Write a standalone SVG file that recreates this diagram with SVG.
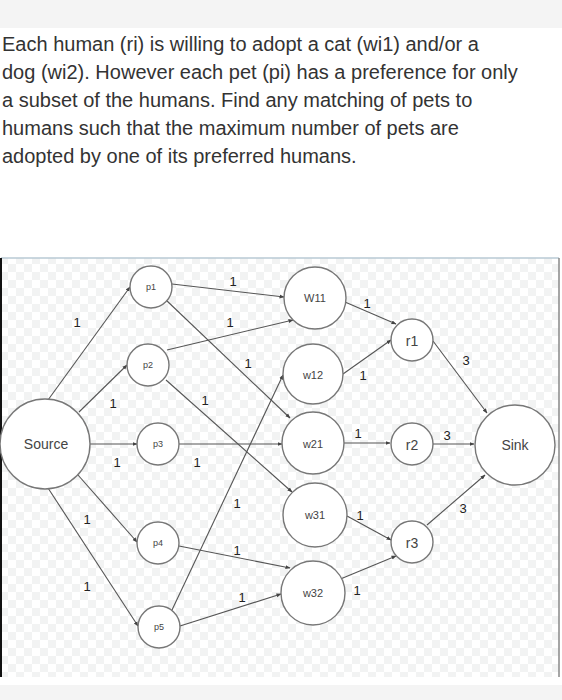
<svg xmlns="http://www.w3.org/2000/svg" width="562" height="700" viewBox="0 0 562 700">
  <defs>
    <pattern id="checker" x="0" y="0" width="16" height="16" patternUnits="userSpaceOnUse">
      <rect width="16" height="16" fill="#ffffff"/>
      <rect width="8" height="8" fill="#f2f3f3"/>
      <rect x="8" y="8" width="8" height="8" fill="#f2f3f3"/>
    </pattern>
    <marker id="arr" viewBox="0 0 10 10" refX="9" refY="5" markerWidth="5" markerHeight="5" orient="auto" markerUnits="userSpaceOnUse">
      <path d="M0,1 L10,5 L0,9 z" fill="#444"/>
    </marker>
    <style>
      .para { font-family: "Liberation Sans", Arial, sans-serif; font-size: 20px; fill: #333; }
      .node circle { fill: #ffffff; stroke: #777; stroke-width: 1.4; }
      .node text { font-family: "Liberation Sans", Arial, sans-serif; fill: #444; text-anchor: middle; dominant-baseline: central; }
      .small text { font-size: 9px; }
      .mid text { font-size: 11px; }
      .big text { font-size: 14px; }
      .edges line { stroke: #555; stroke-width: 1.1; marker-end: url(#arr); }
      .lbl { font-family: "Liberation Sans", Arial, sans-serif; font-size: 13px; fill: #222; text-anchor: middle; dominant-baseline: central; }
    </style>
  </defs>

  <!-- page background -->
  <rect x="0" y="0" width="562" height="700" fill="#ffffff"/>
  <rect x="0" y="0" width="562" height="28" fill="#f4f4f4"/>
  <rect x="0" y="685" width="562" height="15" fill="#f4f4f4"/>

  <!-- question text -->
  <g id="question">
    <text class="para" x="2" y="51">Each human (ri) is willing to adopt a cat (wi1) and/or a</text>
    <text class="para" x="2" y="79">dog (wi2). However each pet (pi) has a preference for only</text>
    <text class="para" x="2" y="107">a subset of the humans. Find any matching of pets to</text>
    <text class="para" x="2" y="135">humans such that the maximum number of pets are</text>
    <text class="para" x="2" y="163">adopted by one of its preferred humans.</text>
  </g>

  <!-- diagram frame -->
  <g id="frame">
    <rect x="1" y="258" width="558" height="419" fill="url(#checker)"/>
    <line x1="1" y1="258" x2="559" y2="258" stroke="#b8cad4" stroke-width="1.5"/>
    <line x1="1" y1="258" x2="1" y2="677" stroke="#111" stroke-width="2"/>
    <line x1="559" y1="258" x2="559" y2="677" stroke="#888" stroke-width="1.5"/>
  </g>

  <!-- connectors -->
  <g id="connectors" class="edges">
    <line x1="48" y1="400" x2="130" y2="287"/>
    <line x1="79" y1="412" x2="127" y2="365"/>
    <line x1="90" y1="444" x2="137" y2="444"/>
    <line x1="78" y1="475" x2="137" y2="542"/>
    <line x1="48" y1="488" x2="138" y2="626"/>

    <line x1="172" y1="284" x2="284" y2="297"/>
    <line x1="166" y1="300" x2="290" y2="418"/>
    <line x1="167" y1="350" x2="293" y2="320"/>
    <line x1="166" y1="380" x2="292" y2="492"/>
    <line x1="179" y1="444" x2="282" y2="444"/>
    <line x1="179" y1="546" x2="290" y2="568"/>
    <line x1="172" y1="610" x2="283" y2="375"/>
    <line x1="180" y1="626" x2="281" y2="594"/>

    <line x1="338" y1="299" x2="396" y2="324"/>
    <line x1="343" y1="374" x2="391" y2="340"/>
    <line x1="344" y1="443" x2="390" y2="443"/>
    <line x1="347" y1="516" x2="391" y2="540"/>
    <line x1="338" y1="580" x2="396" y2="556"/>

    <line x1="433" y1="341" x2="487" y2="413"/>
    <line x1="433" y1="444" x2="474" y2="444"/>
    <line x1="427" y1="525" x2="485" y2="475"/>
  </g>

  <!-- edge labels -->
  <g id="edge-labels">
    <text class="lbl" x="77" y="322">1</text>
    <text class="lbl" x="113" y="403">1</text>
    <text class="lbl" x="117" y="462">1</text>
    <text class="lbl" x="87" y="519">1</text>
    <text class="lbl" x="87" y="586">1</text>
    <text class="lbl" x="233" y="281">1</text>
    <text class="lbl" x="230" y="322">1</text>
    <text class="lbl" x="248" y="363">1</text>
    <text class="lbl" x="205" y="400">1</text>
    <text class="lbl" x="197" y="462">1</text>
    <text class="lbl" x="237" y="503">1</text>
    <text class="lbl" x="237" y="550">1</text>
    <text class="lbl" x="242" y="597">1</text>
    <text class="lbl" x="367" y="303">1</text>
    <text class="lbl" x="363" y="375">1</text>
    <text class="lbl" x="358" y="433">1</text>
    <text class="lbl" x="360" y="515">1</text>
    <text class="lbl" x="357" y="590">1</text>
    <text class="lbl" x="466" y="360">3</text>
    <text class="lbl" x="447" y="435">3</text>
    <text class="lbl" x="463" y="508">3</text>
  </g>

  <!-- nodes -->
  <g id="source" class="node big"><circle cx="45" cy="444" r="45"/><text x="46" y="444">Source</text></g>
  <g id="p1" class="node small"><circle cx="151" cy="287" r="21"/><text x="151" y="287">p1</text></g>
  <g id="p2" class="node small"><circle cx="148" cy="365" r="21"/><text x="148" y="365">p2</text></g>
  <g id="p3" class="node small"><circle cx="158" cy="444" r="21"/><text x="158" y="444">p3</text></g>
  <g id="p4" class="node small"><circle cx="158" cy="543" r="21"/><text x="158" y="543">p4</text></g>
  <g id="p5" class="node small"><circle cx="159" cy="627" r="21"/><text x="159" y="627">p5</text></g>
  <g id="w11" class="node mid"><circle cx="315" cy="298" r="31"/><text x="315" y="298">W11</text></g>
  <g id="w12" class="node mid"><circle cx="313" cy="374" r="30"/><text x="313" y="375">w12</text></g>
  <g id="w21" class="node mid"><circle cx="313" cy="443" r="31"/><text x="313" y="444">w21</text></g>
  <g id="w31" class="node mid"><circle cx="315" cy="515" r="32"/><text x="315" y="515">w31</text></g>
  <g id="w32" class="node mid"><circle cx="313" cy="593" r="32"/><text x="313" y="593">w32</text></g>
  <g id="r1" class="node big"><circle cx="412" cy="340" r="21"/><text x="412" y="341">r1</text></g>
  <g id="r2" class="node big"><circle cx="412" cy="444" r="21"/><text x="412" y="445">r2</text></g>
  <g id="r3" class="node big"><circle cx="412" cy="542" r="21"/><text x="412" y="543">r3</text></g>
  <g id="sink" class="node big"><circle cx="515" cy="445" r="40"/><text x="515" y="445">Sink</text></g>
</svg>
